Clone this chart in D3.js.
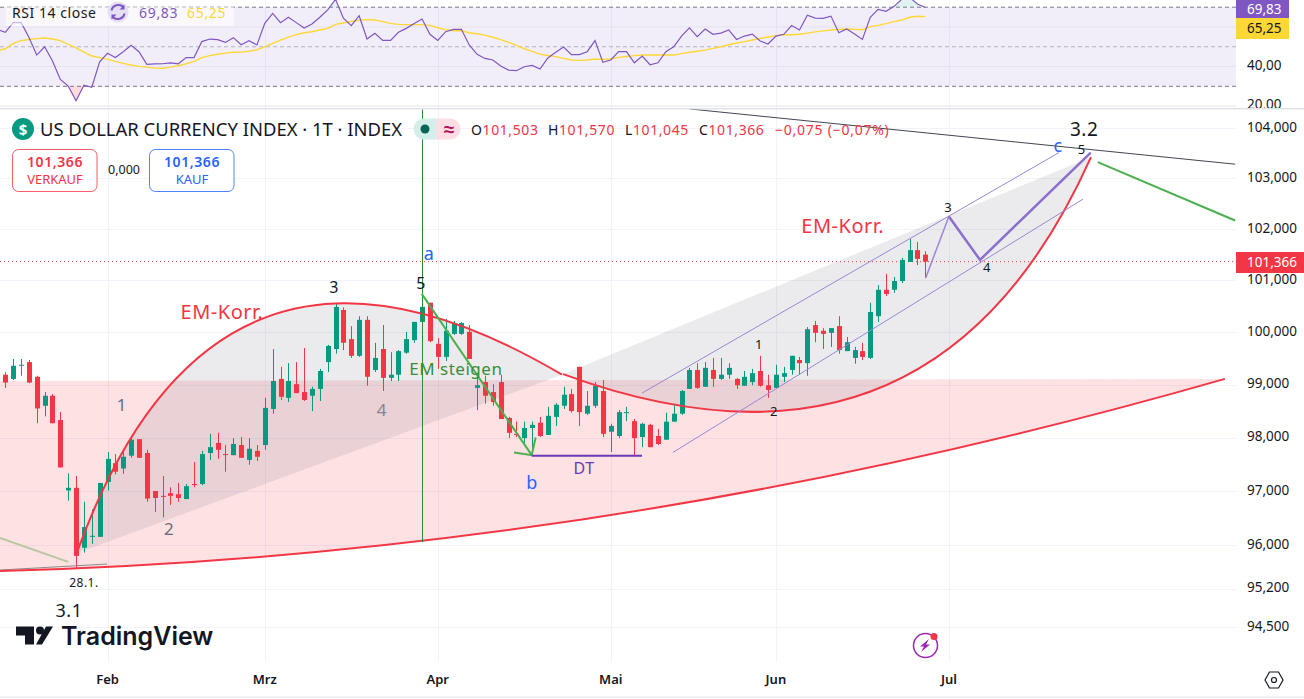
<!DOCTYPE html>
<html>
<head>
<meta charset="utf-8">
<title>DXY</title>
<script src="https://cdn.jsdelivr.net/npm/d3@7/dist/d3.min.js"></script>
<style>
  html, body { margin: 0; padding: 0; background: #fff; overflow: hidden; }
  svg { display: block; }
  text { font-family: "Noto Sans", sans-serif; fill: #131722; }
</style>
</head>
<body>
<svg id="chart" width="1304" height="699"></svg>
<script>
// daily candles
var opens = [99.19,99.11,99.36,99.43,99.15,98.60,98.79,98.33,97.01,97.06,95.95,96.15,96.15,97.17,97.52,97.42,97.66,97.97,97.71,97.00,
  96.91,96.96,96.94,96.85,97.13,97.13,97.71,97.90,97.69,97.67,97.86,97.58,97.75,97.86,98.54,99.11,98.75,99.01,98.86,98.79,
  98.92,99.43,99.68,100.43,99.87,99.55,100.24,99.28,99.68,99.13,99.19,99.61,99.85,100.20,100.57,99.78,99.53,99.97,99.97,100.01,
  98.94,99.05,98.86,99.05,98.37,98.07,97.99,98.18,98.28,98.05,98.39,98.60,98.82,99.34,98.45,98.60,98.88,98.11,98.03,98.47,
  98.31,98.01,98.24,98.03,97.96,98.30,98.45,98.92,99.28,98.96,99.28,99.11,99.19,99.11,98.98,99.05,99.26,98.99,98.94,99.15,
  99.28,99.47,99.41,100.14,100.03,99.99,100.12,99.64,99.51,99.64,99.51,100.31,100.82,100.82,100.99,101.36,101.59,101.503];
var highs = [99.24,99.49,99.49,99.47,99.17,98.86,98.82,98.48,97.33,97.28,96.80,96.66,97.15,97.73,97.69,97.73,97.99,97.97,97.77,97.00,
  97.28,97.07,97.15,97.13,97.54,97.75,98.07,98.09,97.86,97.99,98.01,97.99,97.86,98.75,99.68,99.34,99.41,99.43,99.70,98.96,
  99.30,99.76,100.55,100.48,100.12,100.31,100.31,99.80,100.14,99.62,99.66,100.01,100.20,100.70,100.57,99.89,100.26,100.22,100.20,100.14,
  99.19,99.17,99.01,99.19,98.39,98.30,98.30,98.30,98.39,98.58,98.65,98.96,98.92,99.34,98.88,99.05,99.09,98.26,98.52,98.58,
  98.35,98.28,98.26,98.16,98.47,98.60,98.90,99.32,99.41,99.43,99.51,99.51,99.41,99.13,99.26,99.30,99.55,99.19,99.38,99.34,
  99.55,99.53,100.10,100.22,100.08,100.08,100.31,99.91,99.72,99.80,100.57,100.91,101.13,101.07,101.44,101.81,101.75,101.570];
var lows = [98.94,99.09,99.17,99.03,98.27,98.40,98.27,97.44,96.82,95.57,95.86,96.02,96.15,97.01,97.31,97.32,97.62,97.62,96.80,96.61,
  96.51,96.74,96.80,96.85,97.07,97.11,97.58,97.60,97.36,97.67,97.62,97.49,97.56,97.77,98.45,98.71,98.67,98.84,98.69,98.50,
  98.69,99.24,99.59,99.66,99.51,99.53,98.98,99.24,98.88,99.07,99.07,99.59,99.80,100.04,99.81,99.30,99.45,99.95,99.95,99.49,
  98.52,98.64,98.60,98.35,97.99,98.01,97.90,97.66,98.01,98.05,98.22,98.54,98.47,98.22,98.43,98.56,98.01,97.73,97.99,98.31,
  97.66,97.82,97.82,97.86,97.96,98.30,98.43,98.92,98.92,98.96,98.96,99.09,99.11,98.92,98.98,98.99,98.96,98.75,98.92,99.05,
  99.19,99.19,99.17,99.81,99.68,99.72,99.59,99.64,99.40,99.47,99.49,100.20,100.70,100.76,100.95,101.36,101.30,101.045];
var closes = [99.04,99.36,99.38,99.04,98.55,98.79,98.27,97.44,97.06,95.80,96.33,96.17,97.15,97.60,97.36,97.64,97.96,97.62,96.86,96.87,
  96.89,96.91,96.87,97.09,97.11,97.69,97.82,97.77,97.68,97.88,97.62,97.79,97.64,98.56,99.07,98.77,99.07,98.84,98.71,98.92,
  99.26,99.74,100.49,99.80,99.55,100.24,99.15,99.51,99.13,99.19,99.64,99.87,100.20,100.49,99.83,99.53,100.03,100.18,100.18,99.49,
  98.99,98.79,98.67,98.35,98.09,98.05,98.18,98.24,98.03,98.41,98.62,98.81,98.50,98.48,98.60,98.98,98.07,98.22,98.48,98.48,
  97.99,98.26,97.82,97.88,98.30,98.45,98.88,99.28,98.94,99.32,99.11,99.19,99.32,98.99,99.15,99.22,98.98,98.90,99.19,99.22,
  99.55,99.41,100.06,99.99,99.97,100.08,99.66,99.81,99.66,99.53,100.39,100.82,100.74,100.99,101.40,101.59,101.42,101.366];

// RSI lists carry one extra bar in front, cut by the left edge
var rsiValues = [58.8,57.3,62.2,62.3,54.8,45.8,50.0,42.8,33.5,30.1,22.7,30.6,29.5,42.4,46.7,44.6,47.5,50.7,47.5,41.1,41.3,
  41.4,41.8,41.4,44.5,44.5,52.6,53.9,53.6,52.2,54.6,51.0,53.1,50.9,61.8,66.9,62.2,64.9,62.2,59.5,61.5,
  64.9,68.6,74.0,64.4,60.7,65.7,53.9,56.8,53.2,53.2,57.3,59.3,61.8,64.0,56.3,53.2,57.6,58.8,58.8,50.9,
  46.2,44.1,43.3,40.3,38.2,37.9,39.9,40.6,38.7,44.3,47.2,49.9,46.0,46.0,47.5,53.1,42.1,43.3,47.5,47.5,
  41.9,45.3,40.9,41.9,47.5,50.0,55.4,59.6,55.1,59.0,56.3,56.9,58.5,53.7,55.4,56.4,52.9,51.4,55.4,56.3,
  60.7,58.5,65.9,64.5,64.4,65.5,57.1,59.0,56.4,53.7,64.9,68.9,67.9,70.3,74.0,75.0,71.6,69.83];
var rsiMaValues = [48.0,49.0,51.7,53.1,53.7,54.1,54.4,53.9,53.1,51.2,49.4,47.3,45.3,44.5,43.6,42.6,41.6,40.8,40.1,39.7,39.2,
  39.1,39.7,40.4,41.4,42.6,44.5,45.5,46.2,46.8,47.2,47.3,47.7,48.5,49.9,51.7,53.4,54.9,56.1,57.1,57.6,
  58.5,59.3,61.3,62.0,62.8,63.4,63.7,63.5,62.7,61.8,61.3,61.2,61.2,61.2,60.8,59.6,58.6,58.1,58.1,57.1,
  56.6,55.9,54.8,53.6,52.2,50.7,49.0,47.7,46.3,45.6,45.0,44.1,43.3,43.1,43.3,43.8,43.6,43.8,44.6,45.1,
  45.5,45.8,45.8,45.8,45.8,45.8,46.5,47.2,47.7,48.3,49.2,50.0,51.0,51.9,52.6,53.4,54.2,54.9,55.6,56.1,
  56.1,56.3,56.9,57.5,58.0,58.5,58.8,59.0,58.8,58.6,60.2,60.8,61.7,62.7,63.5,64.9,65.4,65.25];

var monthLabels = ["Feb", "Mrz", "Apr", "Mai", "Jun", "Jul"];
var monthBars = [13, 33, 55, 77, 98, 120];
var priceTicks = [94.5, 95.2, 96, 97, 98, 99, 100, 101, 102, 103, 104];
var rsiGrid = [60, 40, 20];
var rsiDashed = [70, 50, 30];
var rsiTicks = [40, 20];

// drawings, as [bar, price]; arcs are start, control, end
var floorArc = [[-0.67,95.52],[77.16,95.82],[155.1,99.11]];
var arcUp = [[9.08,95.85],[26.67,103.17],[70.8,99.19]];
var arcDown = [[70.93,99.2],[117.98,96.65],[138.07,103.42]];
var channelTop = [[80.97,98.84],[134,103.51]];
var channelBottom = [[84.9,97.72],[137.06,102.59]];
var waveThin = [[117.05,101.05],[120,102.25]];
var waveThick = [[120,102.25],[123.96,101.4],[138.04,103.51]];
var arrowShaft = [[52.96,100.74],[66.95,97.67]];
var arrowHead = [[64.7,97.72],[66.95,97.67],[67.45,98.0]];
var dtLine = [[66.95,97.66],[80.97,97.66]];
var verticalLine = [[53,104.6],[53,96.05]];
var resistLine = [[87.08,104.38],[156.4,103.28]];
var targetLine = [[138.93,103.32],[156.4,102.17]];
var oldGreenLine = [[-0.67,96.13],[8,95.69]];
var oldGrayLine = [[-0.67,95.54],[12.93,95.65]];
var topEdge = 99.07;

var noteTexts = ["3.1","28.1.","1","2","3","5","4","a","EM-Korr.","EM steigen","b","DT","1","2","EM-Korr.","3","4","c","5","3.2"];
var noteBars = [8.1,10,14.84,20.82,41.8,52.87,47.9,53.9,27.56,57.3,67,73.6,95.85,97.76,106.5,119.9,124.85,133.9,136.9,137.2];
var notePrices = [94.79,95.3,98.62,96.3,100.87,100.95,98.52,101.52,100.39,99.3,97.15,97.43,99.76,98.5,102.06,102.42,101.25,103.65,103.58,103.98];
var noteColors = ["#131722","#131722","#6a6d78","#6a6d78","#131722","#131722","#83868f","#2962ff","#f23645","#388e3c","#2962ff","#673ab7","#131722","#131722","#f23645","#131722","#131722","#2962ff","#131722","#131722"];
var noteSizes = [18,12,17,17,16,16,17,18,20,17,18,16,13,13,20,13,13,18,13,19];

var green = "#089981", red = "#f23645", lineGreen = "#4caf50", purple = "#9c86d6", gridColor = "#f0f3fa";
var plotRight = 1236, paneTop = 109, paneBottom = 662;

var svg = d3.select("#chart");
var x = d3.scaleLinear().domain([0, 117]).range([5.3, 925.3]);
var y = d3.scaleLog().domain([96, 104]).range([545, 128]);
var rsiY = d3.scaleLinear().domain([70, 30]).range([7.2, 86.3]);

var defs = svg.append("defs");
defs.append("clipPath").attr("id", "pricePane").append("rect")
  .attr("x", 0).attr("y", paneTop).attr("width", plotRight).attr("height", paneBottom - paneTop);
defs.append("clipPath").attr("id", "rsiPane").append("rect")
  .attr("x", 0).attr("y", 0).attr("width", plotRight).attr("height", 108);
defs.append("clipPath").attr("id", "rsiAbove").append("rect")
  .attr("x", 0).attr("y", 0).attr("width", plotRight).attr("height", rsiY(70));
defs.append("clipPath").attr("id", "rsiBelow").append("rect")
  .attr("x", 0).attr("y", rsiY(30)).attr("width", plotRight).attr("height", 30);
defs.append("clipPath").attr("id", "rsiAxis").append("rect")
  .attr("x", plotRight).attr("y", 0).attr("width", 68).attr("height", 108);

var lineOf = d3.line().x(function (d) { return x(d[0]); }).y(function (d) { return y(d[1]); });
function arcOf(p) {
  var c = d3.path();
  c.moveTo(x(p[0][0]), y(p[0][1]));
  c.quadraticCurveTo(x(p[1][0]), y(p[1][1]), x(p[2][0]), y(p[2][1]));
  return c;
}

// month grid through both panes
svg.append("g").selectAll("line").data(monthBars).enter().append("line")
  .attr("x1", function (d) { return Math.round(x(d)) + 0.5; })
  .attr("x2", function (d) { return Math.round(x(d)) + 0.5; })
  .attr("y1", 0).attr("y2", paneBottom)
  .attr("stroke", gridColor);

// ---- RSI pane
var rsiPane = svg.append("g").attr("clip-path", "url(#rsiPane)");
rsiPane.append("rect").attr("x", 0).attr("width", plotRight)
  .attr("y", rsiY(70)).attr("height", rsiY(30) - rsiY(70))
  .attr("fill", "#7e57c2").attr("fill-opacity", 0.1);
rsiPane.selectAll("line.grid").data(rsiGrid).enter().append("line").attr("class", "grid")
  .attr("x1", 0).attr("x2", plotRight)
  .attr("y1", function (d) { return rsiY(d); }).attr("y2", function (d) { return rsiY(d); })
  .attr("stroke", "#e6e3ef").attr("stroke-width", 1);
rsiPane.selectAll("line.band").data(rsiDashed).enter().append("line").attr("class", "band")
  .attr("x1", 0).attr("x2", plotRight)
  .attr("y1", function (d) { return rsiY(d); }).attr("y2", function (d) { return rsiY(d); })
  .attr("stroke", function (d) { return d === 50 ? "#b2b5be" : "#787b86"; })
  .attr("stroke-dasharray", "4 3");

var rsiArea = function (limit) {
  return d3.area().x(function (d, i) { return x(i - 1); }).y0(rsiY(limit)).y1(function (d) { return rsiY(d); });
};
rsiPane.append("path").attr("clip-path", "url(#rsiAbove)").attr("d", rsiArea(70)(rsiValues)).attr("fill", "#089981").attr("fill-opacity", 0.12);
rsiPane.append("path").attr("clip-path", "url(#rsiBelow)").attr("d", rsiArea(30)(rsiValues)).attr("fill", "#f23645").attr("fill-opacity", 0.18);

var rsiLine = d3.line().x(function (d, i) { return x(i - 1); }).y(function (d) { return rsiY(d); });
rsiPane.append("path").attr("d", rsiLine(rsiMaValues)).attr("fill", "none").attr("stroke", "#fdd835").attr("stroke-width", 1.4);
rsiPane.append("path").attr("d", rsiLine(rsiValues)).attr("fill", "none").attr("stroke", "#7e57c2").attr("stroke-width", 1.2);

// ---- price pane
var pane = svg.append("g").attr("clip-path", "url(#pricePane)");
pane.selectAll("line.grid").data(priceTicks).enter().append("line").attr("class", "grid")
  .attr("x1", 0).attr("x2", plotRight)
  .attr("y1", function (d) { return Math.round(y(d)) + 0.5; }).attr("y2", function (d) { return Math.round(y(d)) + 0.5; })
  .attr("stroke", gridColor);

// filled shapes go under the candles
var floorShape = arcOf(floorArc);
floorShape.lineTo(x(floorArc[0][0]), y(topEdge));
floorShape.closePath();
pane.append("path").attr("d", floorShape.toString()).attr("fill", red).attr("fill-opacity", 0.15);
pane.append("path").attr("d", arcOf(arcUp) + "Z").attr("fill", "#787b86").attr("fill-opacity", 0.15);
pane.append("path").attr("d", arcOf(arcDown) + "Z").attr("fill", "#787b86").attr("fill-opacity", 0.15);

pane.append("line").attr("x1", 0).attr("x2", plotRight)
  .attr("y1", y(closes[closes.length - 1])).attr("y2", y(closes[closes.length - 1]))
  .attr("stroke", red).attr("stroke-dasharray", "1 3").attr("stroke-width", 1);

// candles
var bars = pane.append("g").selectAll("g").data(opens).enter().append("g")
  .attr("fill", function (d, i) { return closes[i] >= d ? green : red; })
  .attr("stroke", function (d, i) { return closes[i] >= d ? green : red; });
bars.append("line")
  .attr("x1", function (d, i) { return Math.round(x(i)) + 0.5; })
  .attr("x2", function (d, i) { return Math.round(x(i)) + 0.5; })
  .attr("y1", function (d, i) { return y(highs[i]); })
  .attr("y2", function (d, i) { return y(lows[i]); });
bars.append("rect")
  .attr("stroke", "none")
  .attr("x", function (d, i) { return Math.round(x(i)) - 2; })
  .attr("width", 5)
  .attr("y", function (d, i) { return y(Math.max(d, closes[i])); })
  .attr("height", function (d, i) { return Math.max(1, Math.abs(y(d) - y(closes[i]))); });

// line drawings on top of the candles
function drawLine(pts, color, width) {
  return pane.append("path").attr("d", lineOf(pts)).attr("fill", "none")
    .attr("stroke", color).attr("stroke-width", width);
}
function drawArc(pts, color, width) {
  return pane.append("path").attr("d", arcOf(pts).toString()).attr("fill", "none")
    .attr("stroke", color).attr("stroke-width", width);
}
drawLine(oldGrayLine, "#8d8a8c", 1);
drawLine(oldGreenLine, "#b7c8a0", 2);
drawArc(floorArc, red, 2);
drawArc(arcUp, red, 2);
drawArc(arcDown, red, 2);
drawLine(channelTop, purple, 1);
drawLine(channelBottom, purple, 1);
drawLine(waveThin, "#9c86d6", 1.5);
drawLine(waveThick, "#8a70cc", 2.5);
drawLine(verticalLine, "#2e8b37", 1).attr("shape-rendering", "crispEdges");
drawLine(arrowShaft, lineGreen, 2);
drawLine(arrowHead, lineGreen, 2);
drawLine(dtLine, "#673ab7", 2);
drawLine(resistLine, "#434651", 1);
drawLine(targetLine, lineGreen, 2);

pane.append("g").selectAll("text").data(noteTexts).enter().append("text")
  .attr("x", function (d, i) { return x(noteBars[i]); })
  .attr("y", function (d, i) { return y(notePrices[i]); })
  .attr("dy", "0.35em").attr("text-anchor", "middle")
  .style("fill", function (d, i) { return noteColors[i]; })
  .style("font-size", function (d, i) { return noteSizes[i] + "px"; })
  .style("letter-spacing", "0.5px")
  .text(function (d) { return d; });

// ---- chrome
svg.append("rect").attr("x", 0).attr("y", 108).attr("width", 1304).attr("height", 1.5).attr("fill", "#e0e3eb");
svg.append("rect").attr("x", 0).attr("y", 696.5).attr("width", 1304).attr("height", 1.5).attr("fill", "#e9ebf0");

var fmtPrice = function (d) { return d.toFixed(3).replace(".", ","); };
var fmtRsi = function (d) { return d.toFixed(2).replace(".", ","); };

var axisText = svg.append("g").style("font-size", "13.5px");
axisText.selectAll("text.price").data(priceTicks).enter().append("text").attr("class", "price")
  .attr("x", 1247).attr("y", function (d) { return y(d) - 1; }).attr("dy", "0.35em")
  .text(fmtPrice);
axisText.append("g").attr("clip-path", "url(#rsiAxis)").selectAll("text.rsi").data(rsiTicks).enter().append("text").attr("class", "rsi")
  .attr("x", 1247).attr("y", function (d) { return rsiY(d) - 1.5; }).attr("dy", "0.35em")
  .text(fmtRsi);

function tag(text, color, textColor, w, top, h) {
  svg.append("rect").attr("x", plotRight).attr("y", top).attr("width", w).attr("height", h).attr("fill", color);
  svg.append("text").attr("x", plotRight + 11).attr("y", top + h / 2).attr("dy", "0.35em")
    .style("font-size", "13.5px").style("fill", textColor).text(text);
}
tag(fmtRsi(rsiValues[rsiValues.length - 1]), "#7e57c2", "#fff", 53, 0, 18);
tag(fmtRsi(rsiMaValues[rsiMaValues.length - 1]), "#fdd835", "#131722", 53, 18, 21);
tag(fmtPrice(closes[closes.length - 1]), red, "#fff", 68, 252, 21);

var months = svg.append("g").style("font-size", "13px").style("font-weight", 600);
months.selectAll("text").data(monthLabels).enter().append("text")
  .attr("x", function (d, i) { return x(monthBars[i]); }).attr("y", 684)
  .attr("text-anchor", "middle").text(function (d) { return d; });

// RSI legend
svg.append("rect").attr("x", 6).attr("y", 7).attr("width", 228).attr("height", 19).attr("fill", "#fff").attr("fill-opacity", 0.6);
svg.append("text").attr("x", 12).attr("y", 13).attr("dy", "0.35em").style("font-size", "14px").style("letter-spacing", "0.55px").text("RSI 14 close");
svg.append("circle").attr("cx", 118).attr("cy", 12).attr("r", 10.5).attr("fill", "#e5dff4");
svg.append("path").attr("d", "M111.5,10.5a7,6.5 0 0 1 12,-3.5 M124.5,13.5a7,6.5 0 0 1 -12,3.5")
  .attr("fill", "none").attr("stroke", "#7e57c2").attr("stroke-width", 2);
svg.append("path").attr("d", "M124.5,4.5v5h-5z M111.5,19.5v-5h5z").attr("fill", "#7e57c2");
svg.append("text").attr("x", 139).attr("y", 13).attr("dy", "0.35em").style("font-size", "14px").style("letter-spacing", "0.7px").style("fill", "#7e57c2").text(fmtRsi(rsiValues[rsiValues.length - 1]));
svg.append("text").attr("x", 187).attr("y", 13).attr("dy", "0.35em").style("font-size", "14px").style("letter-spacing", "0.7px").style("fill", "#fdd835").text(fmtRsi(rsiMaValues[rsiMaValues.length - 1]));

// title row
svg.append("circle").attr("cx", 23).attr("cy", 129).attr("r", 11).attr("fill", green);
svg.append("text").attr("x", 23).attr("y", 129).attr("dy", "0.37em").attr("text-anchor", "middle")
  .style("fill", "#fff").style("font-size", "15px").style("font-weight", 700).text("$");
svg.append("text").attr("x", 40).attr("y", 130).attr("dy", "0.35em").style("font-size", "18px")
  .attr("textLength", 362).attr("lengthAdjust", "spacingAndGlyphs")
  .text("US DOLLAR CURRENCY INDEX · 1T · INDEX");

svg.append("path").attr("d", "M436,118.5h-12a10.5,10.5 0 0 0 0,21h12z").attr("fill", "#d5eee9");
svg.append("path").attr("d", "M436,118.5h14a10.5,10.5 0 0 1 0,21h-14z").attr("fill", "#fcdde3");
svg.append("circle").attr("cx", 425).attr("cy", 129).attr("r", 4.5).attr("fill", "#056656");
svg.append("text").attr("x", 449).attr("y", 129).attr("dy", "0.35em").attr("text-anchor", "middle")
  .style("font-size", "19px").style("font-weight", 700).style("fill", "#b0125b").text("≈");

var last = closes.length - 1;
var ohlcLabels = ["O", "H", "L", "C"];
var ohlcValues = [opens[last], highs[last], lows[last], closes[last]];
var ohlcX = [471, 548, 625, 699];
ohlcLabels.forEach(function (lbl, i) {
  var t = svg.append("text").attr("x", ohlcX[i]).attr("y", 130).attr("dy", "0.35em").style("font-size", "14px").style("letter-spacing", "0.6px");
  t.append("tspan").text(lbl);
  t.append("tspan").style("fill", red).text(fmtPrice(ohlcValues[i]));
});
svg.append("text").attr("x", 775).attr("y", 130).attr("dy", "0.35em").style("font-size", "14px").style("letter-spacing", "0.75px").style("fill", red)
  .text("−0,075 (−0,07%)");

// buy and sell boxes
function tradeBox(left, color, word) {
  svg.append("rect").attr("x", left + 0.5).attr("y", 149.5).attr("width", 84.5).attr("height", 42).attr("rx", 6)
    .attr("fill", "#fff").attr("stroke", color).attr("stroke-opacity", 0.8);
  svg.append("text").attr("x", left + 43).attr("y", 162).attr("dy", "0.35em").attr("text-anchor", "middle")
    .style("font-size", "14px").style("font-weight", 600).style("letter-spacing", "0.6px").style("fill", color).text(fmtPrice(closes[last]));
  svg.append("text").attr("x", left + 43).attr("y", 179).attr("dy", "0.35em").attr("text-anchor", "middle")
    .style("font-size", "13px").style("fill", color).text(word);
}
tradeBox(12, red, "VERKAUF");
tradeBox(149, "#2962ff", "KAUF");
svg.append("text").attr("x", 124).attr("y", 170).attr("dy", "0.35em").attr("text-anchor", "middle")
  .style("font-size", "12.5px").text("0,000");

// logo
var logo = svg.append("g").attr("fill", "#131722");
logo.append("path").attr("d", "M16,626.5h18v18h-9v-9h-9z");
logo.append("circle").attr("cx", 40).attr("cy", 630.5).attr("r", 4);
logo.append("path").attr("d", "M46,626.5h7l-11,18h-6z");
svg.append("text").attr("x", 61).attr("y", 645).style("font-family", "Inter, sans-serif")
  .style("font-size", "25px").style("font-weight", 600).text("TradingView");

// bolt badge and settings glyph
svg.append("circle").attr("cx", 925.5).attr("cy", 645.5).attr("r", 12).attr("fill", "#fff").attr("stroke", "#9c27b0").attr("stroke-width", 1.5);
svg.append("path").attr("d", "M929,639l-9,7.5h4l-3,5.5l9,-7.5h-4z").attr("fill", "#9c27b0");
svg.append("circle").attr("cx", 934).attr("cy", 636.5).attr("r", 3.5).attr("fill", red);
svg.append("path").attr("d", "M1265,680l4.5,-8h9l4.5,8l-4.5,8h-9z").attr("fill", "none").attr("stroke", "#131722").attr("stroke-width", 1.2);
svg.append("circle").attr("cx", 1274).attr("cy", 680).attr("r", 2.5).attr("fill", "none").attr("stroke", "#131722").attr("stroke-width", 1.2);
</script>
</body>
</html>
